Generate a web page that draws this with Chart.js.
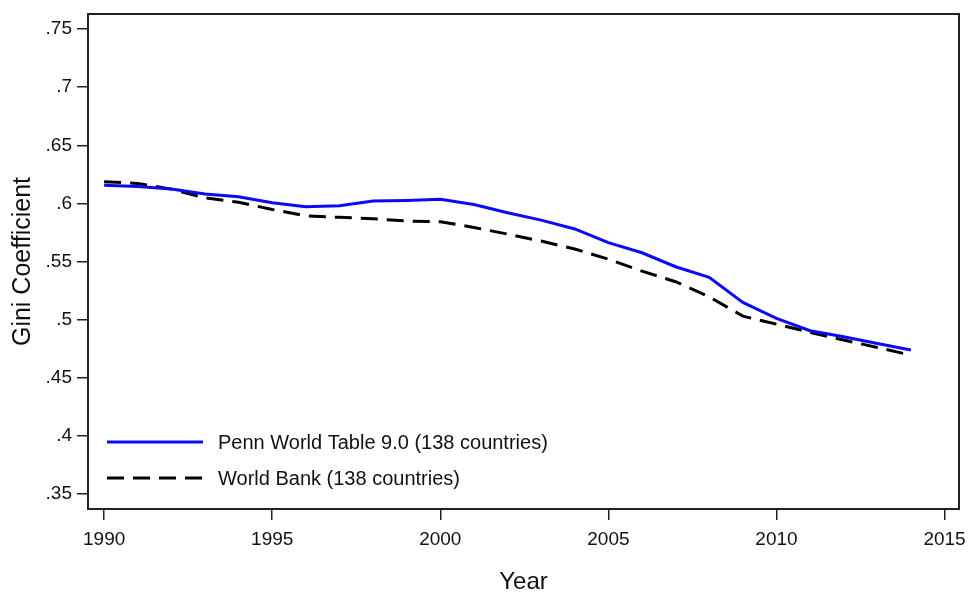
<!DOCTYPE html>
<html>
<head>
<meta charset="utf-8">
<script src="https://cdn.jsdelivr.net/npm/chart.js@4"></script>
<style>
  html, body { margin: 0; padding: 0; background: #fff; }
  #wrap { width: 969px; height: 594px; }
</style>
</head>
<body>
<div id="wrap"><canvas id="giniChart" width="969" height="594"></canvas></div>
<script>
// data
const years = [1990, 1991, 1992, 1993, 1994, 1995, 1996, 1997, 1998, 1999, 2000, 2001, 2002,
               2003, 2004, 2005, 2006, 2007, 2008, 2009, 2010, 2011, 2012, 2013, 2014];
const pennWorld = [0.6157, 0.6145, 0.6123, 0.6080, 0.6057, 0.6006, 0.5972, 0.5980, 0.6020, 0.6025,
                   0.6035, 0.5990, 0.5920, 0.5856, 0.5780, 0.5662, 0.5575, 0.5455, 0.5363, 0.5148,
                   0.5010, 0.4904, 0.4852, 0.4795, 0.4738];
const worldBank = [0.6186, 0.6172, 0.6123, 0.6048, 0.6010, 0.5948, 0.5893, 0.5880, 0.5868, 0.5848,
                   0.5842, 0.5793, 0.5736, 0.5676, 0.5607, 0.5520, 0.5417, 0.5326, 0.5196, 0.5030,
                   0.4961, 0.4890, 0.4824, 0.4760, 0.4694];
const xTicks = [1990, 1995, 2000, 2005, 2010, 2015];
const yTicks = [0.35, 0.4, 0.45, 0.5, 0.55, 0.6, 0.65, 0.7, 0.75];
const yTickLabels = ['.35', '.4', '.45', '.5', '.55', '.6', '.65', '.7', '.75'];
const seriesNames = ['Penn World Table 9.0 (138 countries)', 'World Bank (138 countries)'];

const FONT = "'Liberation Sans', Arial, sans-serif";
const AXIS = '#222';

// box on all four sides + legend inside the plot, Stata style
const boxAndLegend = {
    id: 'boxAndLegend',
    afterDraw(chart) {
        const ctx = chart.ctx;
        const a = chart.chartArea;
        ctx.save();
        ctx.strokeStyle = AXIS;
        ctx.lineWidth = 2;
        ctx.strokeRect(a.left, a.top, a.right - a.left, a.bottom - a.top);

        ctx.font = '20px ' + FONT;
        ctx.textBaseline = 'middle';
        ctx.fillStyle = '#111';
        chart.data.datasets.forEach((ds, i) => {
            const y = 442 + i * 36;
            ctx.beginPath();
            ctx.strokeStyle = ds.borderColor;
            ctx.lineWidth = ds.borderWidth;
            ctx.setLineDash(ds.borderDash || []);
            ctx.moveTo(107, y);
            ctx.lineTo(203, y);
            ctx.stroke();
            ctx.setLineDash([]);
            ctx.fillText(ds.label, 218, y + 1);
        });
        ctx.restore();
    }
};

const ctxGini = document.getElementById('giniChart').getContext('2d');
const giniChart = new Chart(ctxGini, {
    type: 'line',
    data: {
        datasets: [{
            label: seriesNames[0],
            data: years.map((y, i) => ({ x: y, y: pennWorld[i] })),
            borderColor: '#0a0af5',
            borderWidth: 3,
            pointRadius: 0,
            tension: 0,
            fill: false
        }, {
            label: seriesNames[1],
            data: years.map((y, i) => ({ x: y, y: worldBank[i] })),
            borderColor: '#000',
            borderWidth: 3,
            borderDash: [17, 9],
            pointRadius: 0,
            tension: 0,
            fill: false
        }]
    },
    options: {
        responsive: false,
        animation: false,
        layout: { padding: { left: 0, top: 14, right: 10, bottom: 0 } },
        plugins: {
            legend: { display: false },
            tooltip: { enabled: false }
        },
        scales: {
            x: {
                type: 'linear',
                min: 1989.52,
                max: 2015.43,
                afterBuildTicks: s => { s.ticks = xTicks.map(v => ({ value: v })); },
                afterFit: s => { s.height = 85; s.paddingLeft = 0; s.paddingRight = 0; },
                border: { display: true, color: AXIS, width: 2 },
                grid: { drawOnChartArea: false, drawTicks: true, tickLength: 11, color: AXIS, lineWidth: 1.5 },
                ticks: {
                    color: '#111',
                    font: { family: FONT, size: 19 },
                    padding: 8,
                    maxRotation: 0,
                    callback: v => String(v)
                },
                title: {
                    display: true,
                    text: 'Year',
                    color: '#111',
                    font: { family: FONT, size: 24 },
                    padding: { top: 10, bottom: -3 }
                }
            },
            y: {
                min: 0.337,
                max: 0.763,
                afterBuildTicks: s => { s.ticks = yTicks.map(v => ({ value: v })); },
                afterFit: s => { s.width = 88; s.paddingTop = 0; s.paddingBottom = 0; },
                border: { display: true, color: AXIS, width: 2 },
                grid: { drawOnChartArea: false, drawTicks: true, tickLength: 11, color: AXIS, lineWidth: 1.5 },
                ticks: {
                    color: '#111',
                    font: { family: FONT, size: 19 },
                    padding: 5,
                    callback: (v) => {
                        const k = yTicks.findIndex(t => Math.abs(t - v) < 1e-9);
                        return k >= 0 ? yTickLabels[k] : '';
                    }
                },
                title: {
                    display: true,
                    text: 'Gini Coefficient',
                    color: '#111',
                    font: { family: FONT, size: 25 },
                    padding: { top: 8, bottom: 4 }
                }
            }
        }
    },
    plugins: [boxAndLegend]
});
</script>
</body>
</html>
